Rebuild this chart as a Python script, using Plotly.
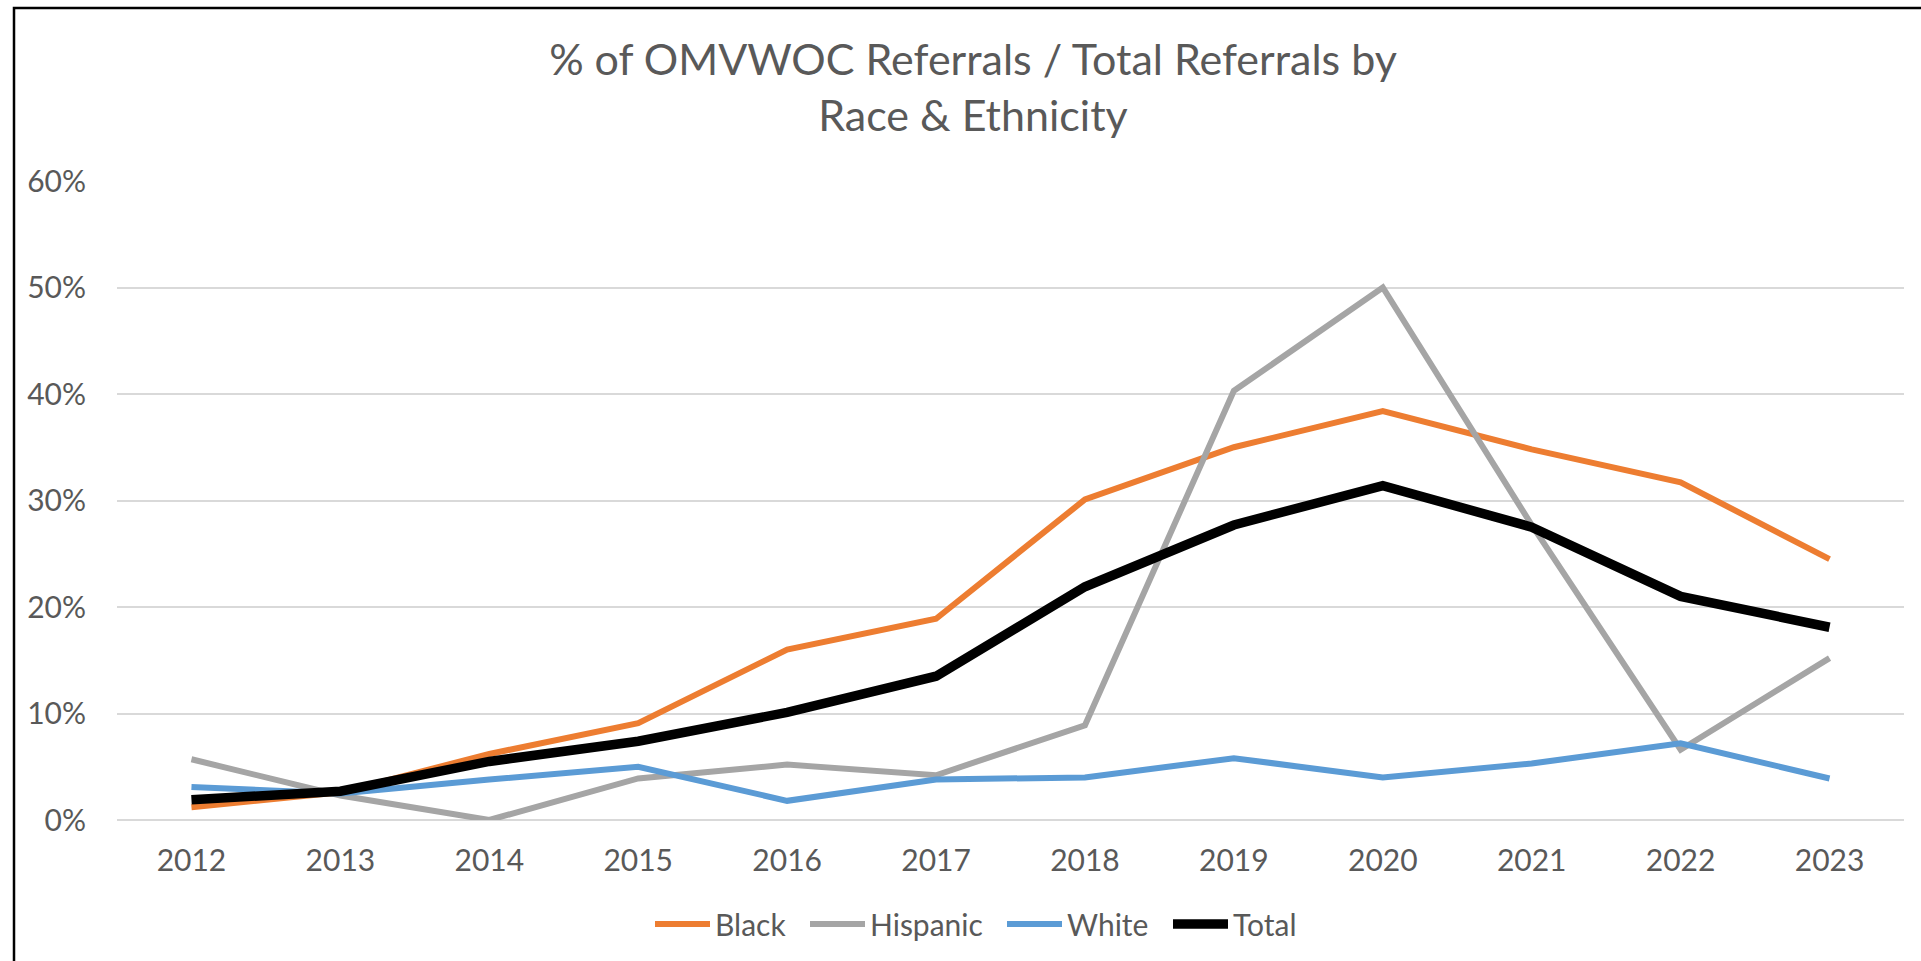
import plotly.graph_objects as go

years = ["2012", "2013", "2014", "2015", "2016", "2017", "2018", "2019", "2020", "2021", "2022", "2023"]
black = [0.012, 0.026, 0.062, 0.091, 0.160, 0.189, 0.301, 0.350, 0.384, 0.348, 0.317, 0.245]
hispanic = [0.057, 0.023, 0.000, 0.039, 0.052, 0.042, 0.089, 0.403, 0.500, 0.277, 0.066, 0.152]
white = [0.031, 0.025, 0.038, 0.050, 0.018, 0.038, 0.040, 0.058, 0.040, 0.053, 0.072, 0.039]
total = [0.019, 0.027, 0.055, 0.074, 0.101, 0.135, 0.219, 0.277, 0.314, 0.275, 0.210, 0.181]

y_ticks = [0, 0.1, 0.2, 0.3, 0.4, 0.5, 0.6]
y_labels = ["0%", "10%", "20%", "30%", "40%", "50%", "60%"]

FONT = "Lato"
TXT = "#595959"

series = [
    ("Black", black, "#ED7D31", 6),
    ("Hispanic", hispanic, "#A5A5A5", 6),
    ("White", white, "#5B9BD5", 6),
    ("Total", total, "#000000", 9.5),
]
legend_ids = ["legend", "legend2", "legend3", "legend4"]
legend_x = [655, 810, 1007, 1173]

W, H = 1921, 961
L, R, T, B = 117, 17, 181, 141
pw, ph = W - L - R, H - T - B

fig = go.Figure()
for (name, vals, color, w), lid in zip(series, legend_ids):
    fig.add_trace(go.Scatter(
        x=years, y=vals, name=name, mode="lines",
        line=dict(color=color, width=w),
        hoverinfo="skip", legend=lid, showlegend=True,
    ))

legends = {}
for lid, lx in zip(legend_ids, legend_x):
    legends[lid] = dict(
        orientation="h",
        xref="container", yref="container",
        x=(lx - 5) / W, xanchor="left",
        y=(H - 924) / H, yanchor="middle",
        font=dict(family=FONT, size=30, color=TXT),
        bgcolor="rgba(0,0,0,0)",
        itemwidth=55,
    )

fig.update_layout(
    width=W, height=H,
    margin=dict(l=L, r=R, t=T, b=B, pad=0),
    paper_bgcolor="white", plot_bgcolor="white",
    showlegend=True,
    font=dict(family=FONT, size=30, color=TXT),
    title=dict(
        text="% of OMVWOC Referrals / Total Referrals by<br>Race &amp; Ethnicity",
        x=973 / W, xanchor="center", xref="container",
        y=(H - 75) / H, yanchor="middle", yref="container",
        font=dict(family=FONT, size=43, color=TXT),
    ),
    xaxis=dict(
        type="category", range=[-0.5, 11.5],
        showgrid=False, showline=False, zeroline=False,
        ticks="", ticklabelstandoff=20,
        tickfont=dict(family=FONT, size=30, color=TXT),
    ),
    yaxis=dict(
        range=[0, 0.6], tickvals=y_ticks, ticktext=y_labels,
        showgrid=True, gridcolor="#D9D9D9", gridwidth=1.5,
        zeroline=True, zerolinecolor="#D9D9D9", zerolinewidth=1.5,
        showline=False, ticks="", ticklabelstandoff=30,
        tickfont=dict(family=FONT, size=30, color=TXT),
    ),
    shapes=[dict(
        type="rect", xref="paper", yref="paper",
        x0=(14 - L) / pw, x1=(1935 - L) / pw,
        y0=(H - B - 975) / ph, y1=(H - B - 8) / ph,
        line=dict(color="black", width=2.5), fillcolor="rgba(0,0,0,0)",
        layer="above",
    )],
    **legends,
)

fig.write_html(
    "out.html",
    config={"displayModeBar": False},
    post_script="document.body.style.margin='0';document.body.style.overflow='hidden';",
)
